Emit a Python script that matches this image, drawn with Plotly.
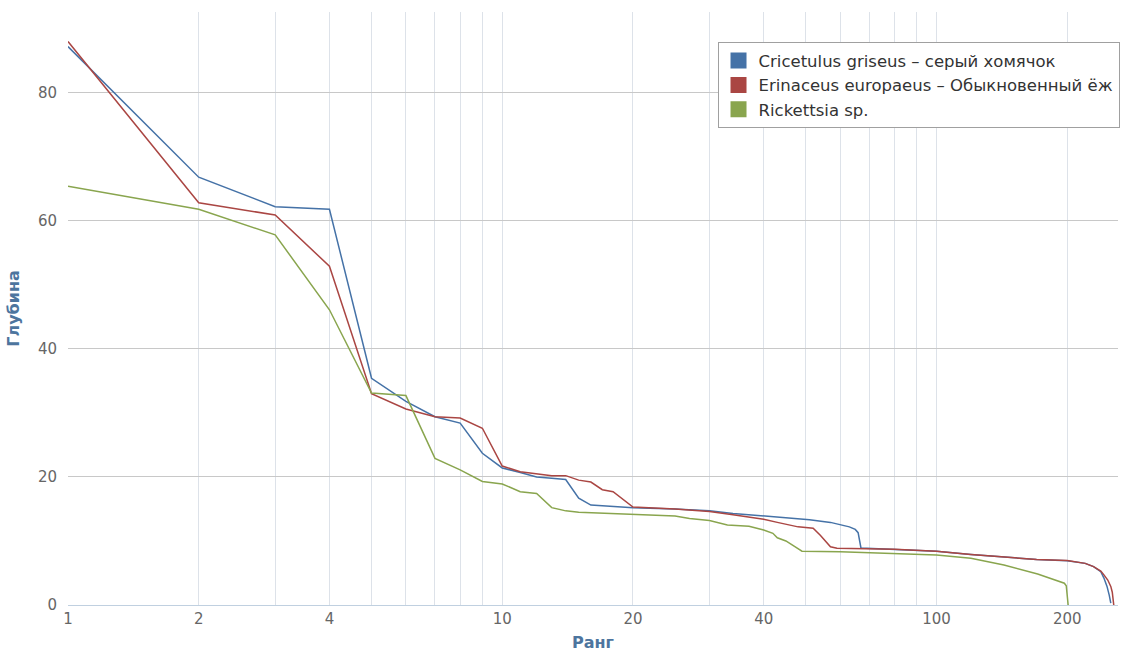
import plotly.graph_objects as go

# Ranks (x) and depth values (y)
blue_rank = [1, 2, 3, 4, 5, 6, 7, 8, 9, 10, 11, 12, 13, 14, 15, 16, 17, 18, 20, 25, 30, 34, 40, 45, 51, 57, 60, 63, 65, 66, 67, 80, 100, 120, 143, 170, 200, 220, 230, 239, 243, 247, 250, 252]
blue_depth = [87.2, 66.8, 62.2, 61.8, 35.4, 31.8, 29.4, 28.4, 23.7, 21.4, 20.7, 20.0, 19.8, 19.6, 16.7, 15.6, 15.5, 15.4, 15.2, 15.0, 14.7, 14.3, 13.9, 13.6, 13.3, 12.9, 12.5, 12.2, 11.8, 11.3, 8.9, 8.7, 8.4, 7.9, 7.5, 7.1, 6.9, 6.5, 6.0, 5.2, 4.2, 2.9, 1.5, 0.3]

red_rank = [1, 2, 3, 4, 5, 6, 7, 8, 9, 10, 11, 12, 13, 14, 15, 16, 17, 18, 19, 20, 25, 30, 34, 40, 43, 48, 52, 54, 57, 59, 80, 100, 120, 143, 170, 200, 220, 230, 239, 243, 248, 252, 254, 256]
red_depth = [88.0, 62.8, 60.9, 52.9, 33.0, 30.6, 29.4, 29.2, 27.6, 21.7, 20.8, 20.5, 20.2, 20.2, 19.5, 19.2, 18.0, 17.7, 16.5, 15.3, 15.0, 14.6, 14.1, 13.4, 12.9, 12.2, 12.0, 10.9, 9.1, 8.85, 8.7, 8.4, 7.9, 7.55, 7.1, 6.95, 6.5, 6.0, 5.3, 4.7, 3.9, 2.9, 2.0, 0.0]

green_rank = [1, 2, 3, 4, 5, 6, 7, 8, 9, 10, 11, 12, 13, 14, 15, 20, 25, 27, 30, 33, 37, 40, 42, 43, 45, 47, 49, 60, 80, 100, 120, 143, 171, 187, 197, 199, 201]
green_depth = [65.4, 61.8, 57.8, 46.1, 33.1, 32.7, 22.9, 21.1, 19.3, 18.9, 17.7, 17.4, 15.2, 14.7, 14.5, 14.2, 13.9, 13.5, 13.2, 12.5, 12.3, 11.7, 11.2, 10.5, 10.0, 9.2, 8.4, 8.3, 8.0, 7.8, 7.3, 6.25, 4.85, 3.9, 3.4, 3.0, 0.0]

series_names = ["Cricetulus griseus – серый хомячок",
                "Erinaceus europaeus – Обыкновенный ёж",
                "Rickettsia sp."]
series_colors = ["#4572A7", "#AA4643", "#89A54E"]

x_grid_vals = [1, 2, 3, 4, 5, 6, 7, 8, 9, 10, 20, 30, 40, 50, 60, 70, 80, 90, 100, 200]
x_labeled = [1, 2, 4, 10, 20, 40, 100, 200]
y_tick_vals = [0, 20, 40, 60, 80]

FONT = "DejaVu Sans"

fig = go.Figure()
data = [(blue_rank, blue_depth), (red_rank, red_depth), (green_rank, green_depth)]
for (xs, ys), color in zip(data, series_colors):
    fig.add_trace(go.Scatter(x=xs, y=ys, mode="lines",
                             line=dict(color=color, width=1.5),
                             showlegend=False, hoverinfo="skip"))
for name, color in zip(series_names, series_colors):
    fig.add_trace(go.Scatter(x=[None], y=[None], mode="markers", name=name,
                             marker=dict(symbol="square", size=16, color=color)))

fig.update_layout(
    width=1122, height=652,
    margin=dict(l=68, r=3, t=12, b=47),
    paper_bgcolor="white", plot_bgcolor="white",
    font=dict(family=FONT, size=15, color="#666666"),
    legend=dict(x=0.618, y=0.949, xanchor="left", yanchor="top",
                bgcolor="white", bordercolor="#A0A0A0", borderwidth=1,
                font=dict(family=FONT, size=16.5, color="#333333"),
                tracegroupgap=0, itemclick=False),
    xaxis=dict(type="log", range=[0, 2.418],
               tickmode="array", tickvals=x_grid_vals,
               ticktext=[str(v) if v in x_labeled else "" for v in x_grid_vals],
               showgrid=True, gridcolor="#DDE2E9", gridwidth=1,
               showline=True, linecolor="#C0D0E0", linewidth=1,
               ticks="", zeroline=False,
               tickfont=dict(family=FONT, size=15, color="#666666"),
               title=dict(text="<b>Ранг</b>", font=dict(family=FONT, size=16, color="#4D759E"),
                          standoff=10)),
    yaxis=dict(range=[0, 92.6], tickmode="array", tickvals=y_tick_vals,
               showgrid=True, gridcolor="#C8C8C8", gridwidth=1,
               zeroline=False, showline=False, ticks="",
               ticklabelstandoff=10,
               tickfont=dict(family=FONT, size=15, color="#666666"),
               title=dict(text="<b>Глубина</b>", font=dict(family=FONT, size=16, color="#4D759E"),
                          standoff=14)),
)

fig.write_html("out.html")
